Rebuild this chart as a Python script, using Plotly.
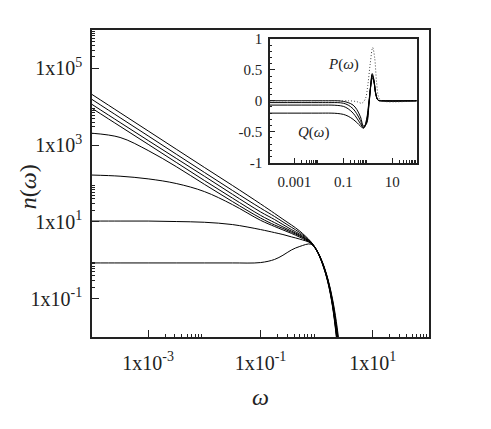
import plotly.graph_objects as go

# ---- main panel: occupation number n(omega), log-log ----
omega = [1e-4, 3.16e-4, 1e-3, 3.16e-3, 0.01, 0.0316, 0.1, 0.178, 0.251, 0.355,
         0.501, 0.794, 1.0, 1.26, 1.58, 1.91, 2.24, 2.63]

n_line1 = [20900, 7000, 2344, 785, 263, 89.1, 29.5, 16.6, 11.7, 8.32,
           5.75, 3.02, 1.86, 0.912, 0.331, 0.1, 0.0251, 0.00398]
n_line2 = [15500, 5190, 1740, 582, 195, 66.1, 22.9, 13.8, 10.0, 7.24,
           5.25, 2.95, 1.86, 0.891, 0.316, 0.0912, 0.0209, 0.00316]
n_line3 = [11500, 3890, 1320, 452, 155, 52.5, 18.2, 11.5, 8.51, 6.31,
           4.79, 2.88, 1.82, 0.871, 0.309, 0.0851, 0.0178, 0.00251]
n_line4 = [9120, 3090, 1050, 355, 120, 41.7, 14.8, 9.55, 7.41, 5.75,
           4.47, 2.82, 1.82, 0.871, 0.302, 0.0794, 0.0151, 0.002]
n_plat2000 = [2040, 1585, 724, 275, 95.5, 33.9, 12.6, 8.32, 6.76, 5.37,
              4.27, 2.82, 1.82, 0.851, 0.295, 0.0759, 0.0138, 0.00158]
n_plat166 = [166, 155, 132, 100, 61.7, 28.2, 11.0, 7.59, 6.17, 5.01,
             3.98, 2.75, 1.78, 0.832, 0.282, 0.0708, 0.0126, 0.00126]
n_plat10 = [10.5, 10.5, 10.5, 10.2, 9.77, 8.51, 6.31, 5.25, 4.68, 4.07,
            3.55, 2.75, 1.78, 0.832, 0.275, 0.0676, 0.0112, 0.001]
n_plat085 = [0.851, 0.851, 0.851, 0.851, 0.851, 0.851, 0.87, 1.05, 1.35, 1.85,
             2.29, 2.63, 1.78, 0.813, 0.269, 0.063, 0.01, 0.00079]

main_curves = [n_line1, n_line2, n_line3, n_line4, n_plat2000, n_plat166, n_plat10, n_plat085]

x_tickvals = [1e-3, 1e-1, 1e1]
x_ticktext = ["1x10<sup>-3</sup>", "1x10<sup>-1</sup>", "1x10<sup>1</sup>"]
y_tickvals = [1e-1, 1e1, 1e3, 1e5]
y_ticktext = ["1x10<sup>-1</sup>", "1x10<sup>1</sup>", "1x10<sup>3</sup>", "1x10<sup>5</sup>"]

# ---- inset: P(omega) and Q(omega) ----
omega_q = [1e-4, 0.01, 0.0316, 0.0562, 0.1, 0.158, 0.251, 0.355, 0.501, 0.676,
           0.891, 1.122, 1.318, 1.514, 1.778, 2.138, 2.63, 3.548, 100]
q_a = [0, 0, 0, 0, -0.01, -0.03, -0.07, -0.14, -0.26, -0.41,
       -0.37, -0.06, 0.24, 0.44, 0.34, 0.11, 0.01, 0, 0]
q_b = [-0.03, -0.03, -0.03, -0.03, -0.04, -0.07, -0.13, -0.21, -0.32, -0.43,
       -0.35, -0.04, 0.24, 0.42, 0.33, 0.11, 0.01, 0, 0]
q_c = [-0.07, -0.07, -0.07, -0.075, -0.09, -0.13, -0.2, -0.28, -0.37, -0.44,
       -0.33, -0.02, 0.24, 0.40, 0.32, 0.1, 0.01, 0, 0]
q_d = [-0.2, -0.2, -0.2, -0.205, -0.22, -0.25, -0.30, -0.35, -0.41, -0.44,
       -0.3, 0.0, 0.25, 0.37, 0.3, 0.1, 0.01, 0, 0]
q_curves = [q_a, q_b, q_c, q_d]

omega_p = [1e-4, 0.1, 0.251, 0.398, 0.562, 0.794, 1.0, 1.259, 1.585, 1.905, 2.291, 2.818, 3.548, 100]
p_vals = [0, 0, -0.005, -0.02, -0.04, 0.03, 0.25, 0.6, 0.86, 0.7, 0.3, 0.05, 0, 0]

inset_x_tickvals = [1e-3, 1e-1, 1e1]
inset_x_ticktext = ["0.001", "0.1", "10"]
inset_y_tickvals = [-1, -0.5, 0, 0.5, 1]
inset_y_ticktext = ["-1", "-0.5", "0", "0.5", "1"]

serif = "Liberation Serif, Times New Roman, DejaVu Serif, serif"

fig = go.Figure()
for n in main_curves:
    fig.add_trace(go.Scatter(x=omega, y=n, mode="lines", line=dict(color="black", width=1, shape="spline"),
                             xaxis="x", yaxis="y", showlegend=False))
for q in q_curves:
    fig.add_trace(go.Scatter(x=omega_q, y=q, mode="lines", line=dict(color="black", width=1, shape="spline"),
                             xaxis="x2", yaxis="y2", showlegend=False))
fig.add_trace(go.Scatter(x=omega_p, y=p_vals, mode="lines",
                         line=dict(color="#444", width=1, dash="1px,2px", shape="spline"),
                         xaxis="x2", yaxis="y2", showlegend=False))


def minor_log(decades):
    return [m * 10 ** d for d in decades for m in range(2, 10)]


axis_common = dict(showline=True, linecolor="#222", linewidth=1.5, mirror=True, ticks="inside",
                   showgrid=False, zeroline=False, tickcolor="#222", tickmode="array", automargin=False)

# the page body adds 8px, so margins are set 8px smaller on the top/left
fig.update_layout(
    width=491, height=429,
    margin=dict(l=84, r=70, t=22, b=100),
    plot_bgcolor="white", paper_bgcolor="white",
    font=dict(family=serif, color="#222"),
    xaxis=dict(axis_common, type="log", range=[-4, 2], domain=[0, 1], anchor="y",
               tickvals=x_tickvals, ticktext=x_ticktext, ticklen=7, tickwidth=1.2,
               tickfont=dict(size=20, family=serif), ticklabelstandoff=7,
               minor=dict(tickmode="array", tickvals=minor_log([-3, -1, 1]), ticks="inside",
                          ticklen=3.5, tickwidth=1, tickcolor="#222", showgrid=False)),
    yaxis=dict(axis_common, type="log", range=[-2, 6], domain=[0, 1], anchor="x",
               tickvals=y_tickvals, ticktext=y_ticktext, ticklen=7, tickwidth=1.2,
               tickfont=dict(size=20, family=serif), ticklabelstandoff=4,
               minor=dict(tickmode="array", tickvals=minor_log([-1, 1, 3, 5]), ticks="inside",
                          ticklen=3.5, tickwidth=1, tickcolor="#222", showgrid=False)),
    xaxis2=dict(axis_common, type="log", range=[-4, 2], domain=[0.528, 0.9635], anchor="y2",
                tickvals=inset_x_tickvals, ticktext=inset_x_ticktext, ticklen=5, tickwidth=1,
                tickfont=dict(size=15, family=serif), ticklabelstandoff=5,
                minor=dict(tickmode="array", tickvals=minor_log([-3, -1, 1]), ticks="inside",
                           ticklen=2.5, tickwidth=1, tickcolor="#222", showgrid=False)),
    yaxis2=dict(axis_common, range=[-1, 1], domain=[0.568, 0.971], anchor="x2",
                tickvals=inset_y_tickvals, ticktext=inset_y_ticktext, ticklen=5, tickwidth=1,
                tickfont=dict(size=15, family=serif), ticklabelstandoff=3,
                minor=dict(tickmode="linear", tick0=0, dtick=0.1, ticks="inside",
                           ticklen=2.5, tickwidth=1, tickcolor="#222", showgrid=False)),
    annotations=[
        dict(text="<i>n</i>(<i>ω</i>)", xref="paper", yref="paper", x=-0.191, y=0.49,
             xanchor="center", yanchor="middle",
             textangle=-90, showarrow=False, font=dict(size=24, family=serif)),
        dict(text="<i>ω</i>", xref="paper", yref="paper", x=0.5, y=-0.195,
             xanchor="center", yanchor="middle",
             showarrow=False, font=dict(size=24, family=serif)),
        dict(text="<i>P</i>(<i>ω</i>)", xref="x2", yref="y2", x=-0.99, y=0.58,
             showarrow=False, font=dict(size=15, family=serif)),
        dict(text="<i>Q</i>(<i>ω</i>)", xref="x2", yref="y2", x=-2.21, y=-0.52,
             showarrow=False, font=dict(size=15, family=serif)),
    ],
)

fig.write_html("out.html")
